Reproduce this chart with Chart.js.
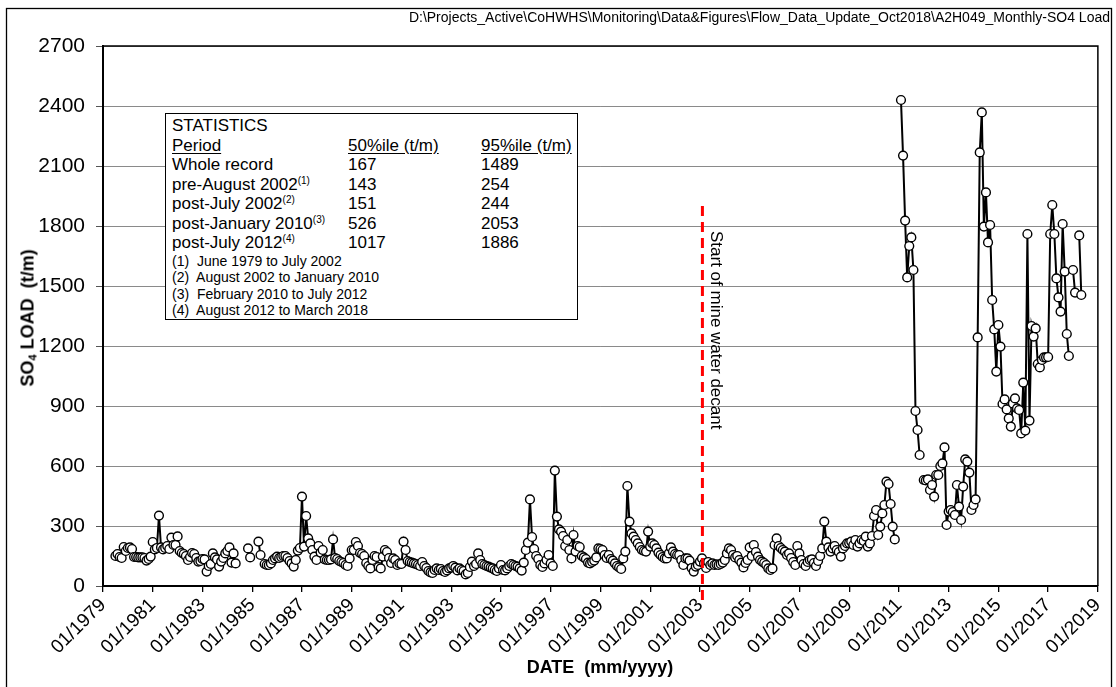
<!DOCTYPE html>
<html>
<head>
<meta charset="utf-8">
<title>A2H049 Monthly SO4 Load</title>
<script src="https://cdn.jsdelivr.net/npm/chart.js@4.4.1/dist/chart.umd.min.js"></script>
<style>
  html, body { margin: 0; padding: 0; background: #fff; }
  #wrap { position: relative; width: 1116px; height: 687px; overflow: hidden;
          font-family: "Liberation Sans", Arial, sans-serif; color: #000; }
  #chart { position: absolute; left: 0; top: 0; }
  .path { position: absolute; right: 6px; top: 9px; font-size: 14px; letter-spacing: 0; white-space: nowrap; }
  .ytitle { position: absolute; left: 28px; top: 318px; transform: translate(-50%, -50%) rotate(-90deg);
            font-weight: bold; font-size: 18px; white-space: pre; }
  .ytitle sub { font-size: 11px; vertical-align: -3px; }
  .xtitle { position: absolute; left: 600px; top: 667px; transform: translate(-50%, -50%);
            font-weight: bold; font-size: 18px; white-space: pre; }
  #stats { position: absolute; left: 165px; top: 113px; width: 413px; height: 207px; box-sizing: border-box;
           border: 1px solid #000; background: #fff; padding: 2px 0 0 6px; }
  #stats .row { position: relative; height: 19.5px; line-height: 19.5px; font-size: 17px; white-space: nowrap; }
  #stats .row span { position: absolute; top: 0; }
  #stats .c1 { left: 0; } #stats .c2 { left: 176px; } #stats .c3 { left: 309px; }
  #stats .u { text-decoration: underline; text-underline-offset: 2px; }
  #stats sup { font-size: 10px; vertical-align: 6px; line-height: 0; }
  #stats .note { height: 16.5px; line-height: 16.5px; font-size: 14px; white-space: pre; }
</style>
</head>
<body>
<div id="wrap">
  <canvas id="chart" width="1116" height="687"></canvas>
  <div class="path">D:\Projects_Active\CoHWHS\Monitoring\Data&amp;Figures\Flow_Data_Update_Oct2018\A2H049_Monthly-SO4 Load</div>
  <div class="ytitle">SO<sub>4</sub> LOAD  (t/m)</div>
  <div class="xtitle">DATE  (mm/yyyy)</div>
  <div id="stats"></div>
</div>
<script>
// monthly SO4 load (t/m), first value = June 1979, null = no record
var startYear = 1979, startMonth = 6;

var load1979to1989 = [
  150, 160, 145, 140, 195, 175, 190,                                  // 1979 Jun-Dec
  193, 185, 145, 145, 143, 143, 143, 140, 127, 135, 147, 220,         // 1980
  183, 190, 352, 193, 183, 190, 200, 185, 242, 205, 205, 248,         // 1981
  175, 165, 160, 150, 130, 145, 165, 160, 140, 122, 125, 135,         // 1982
  133, 72, 100, 110, 163, 143, 133, 97, 122, 140, 163, 175,           // 1983
  193, 117, 163, 113, null, null, null, null, null, 188, 143, null,   // 1984
  null, null, 222, 155, null, 110, 105, 105, 113, 130, 138, 147,      // 1985
  140, 145, 150, 150, 140, 125, 113, 97, 130, 177, 190, 447,          // 1986
  197, 350, 238, 213, 180, 147, 130, 200, 167, 180, 133, 130,         // 1987
  130, 133, 233, 140, 135, 125, 120, 115, 105, 100, 138, 180,         // 1988
  180, 220, 200, 165, 160, 150, 115, 100, 88, 130, 150, 145           // 1989
];
var load1990to1999 = [
  95, 88, 147, 180, 170, 140, 115, 138, 130, 105, 113, 110,           // 1990
  222, 180, 125, 120, 117, 113, 110, 105, 100, 120, 100, 90,          // 1991
  75, 68, 65, 80, 88, 80, 85, 75, 70, 78, 88, 92,                     // 1992
  100, 92, 78, 88, 80, 75, 58, 65, 95, 122, 100, 110,                 // 1993
  163, 130, 110, 105, 100, 97, 92, 88, 80, 75, 88, 105,               // 1994
  80, 78, 88, 100, 110, 105, 100, 97, 88, 77, 117, 180,               // 1995
  217, 433, 245, 185, 150, 135, 105, 95, 113, 130, 155, 113,          // 1996
  100, 577, 347, 283, 272, 250, 200, 230, 180, 138, 255, 172,         // 1997
  200, 195, 150, 143, 135, 117, 113, 120, 127, 143, 188, 185,         // 1998
  180, 155, 140, 155, 135, 127, 113, 100, 93, 85, 138, 172            // 1999
];
var load2000to2009 = [
  500, 322, 263, 247, 230, 213, 195, 180, 175, 172, 272, 197,         // 2000
  213, 205, 188, 167, 155, 145, 138, 138, 163, 193, 172, 160,         // 2001
  155, 155, 130, 105, 138, 138, 127, 90, 72, 97, 105, 122,            // 2002
  138, 113, 90, 120, 105, 113, 105, 108, 105, 110, 117, 130,          // 2003
  163, 188, 180, 155, 143, 150, 130, 117, 93, 115, 130, 193,          // 2004
  150, 205, 170, 147, 130, 122, 115, 105, 88, 80, 88, 205,            // 2005
  238, 200, 190, 180, 172, 155, 163, 140, 120, 105, 200, 163,         // 2006
  130, 110, 100, 120, 130, 133, 115, 100, 125, 150, 188, 322,         // 2007
  222, 193, 172, 188, 200, 180, 170, 147, 188, 200, 213, 215,         // 2008
  222, 205, 230, 197, 213, 230, 225, 247, 197, 213, 250, 350          // 2009
];
var load2010to2018 = [
  380, 255, 297, 363, 405, 522, 510, 410, 297, 233, null, null,                // 2010
  2430, 2152, 1827, 1543, 1700, 1743, 1580, 875, 780, 655, null, 530,          // 2011
  528, 533, 480, 505, 447, 555, 555, 600, 613, 693, 305, 372,                  // 2012
  380, 370, 355, 505, 397, 330, 497, 633, 622, 567, 380, 405,                  // 2013
  433, 1243, 2168, 2368, 1797, 1968, 1718, 1805, 1430, 1283, 1072, 1305,       // 2014
  1197, 910, 933, 883, 838, 797, 913, 938, 888, 880, 763, 1017,                // 2015
  777, 1760, 827, 1300, 1247, 1288, 1110, 1093, 1130, 1143, 1143, 1145,        // 2016
  1760, 1905, 1760, 1538, 1443, 1372, 1810, 1572, 1260, 1150, null, 1580,      // 2017
  1467, null, 1753, 1455                                                       // 2018
];

var xTickYears = [1979, 1981, 1983, 1985, 1987, 1989, 1991, 1993, 1995, 1997, 1999,
                  2001, 2003, 2005, 2007, 2009, 2011, 2013, 2015, 2017, 2019];
var yTicks = [0, 300, 600, 900, 1200, 1500, 1800, 2100, 2400, 2700];

var decantDate = 2003.1;    // start of mine water decant
var decantTop = 1900;
var decantLabel = 'Start of mine water decant';

var statPeriods = ['Whole record', 'pre-August 2002', 'post-July 2002', 'post-January 2010', 'post-July 2012'];
var statRefs = ['', '(1)', '(2)', '(3)', '(4)'];
var stat50 = [167, 143, 151, 526, 1017];
var stat95 = [1489, 254, 244, 2053, 1886];
var statNotes = ['(1)  June 1979 to July 2002', '(2)  August 2002 to January 2010',
                 '(3)  February 2010 to July 2012', '(4)  August 2012 to March 2018'];

// statistics box
(function(){
  var box = document.getElementById('stats');
  var html = '<div class="row"><span class="c1">STATISTICS</span></div>';
  html += '<div class="row"><span class="c1 u">Period</span><span class="c2 u">50%ile (t/m)</span><span class="c3 u">95%ile (t/m)</span></div>';
  for (var i = 0; i < statPeriods.length; i++) {
    html += '<div class="row"><span class="c1">' + statPeriods[i] + (statRefs[i] ? '<sup>' + statRefs[i] + '</sup>' : '') +
            '</span><span class="c2">' + stat50[i] + '</span><span class="c3">' + stat95[i] + '</span></div>';
  }
  statNotes.forEach(function(n){ html += '<div class="note">' + n + '</div>'; });
  box.innerHTML = html;
})();

var allLoads = load1979to1989.concat(load1990to1999, load2000to2009, load2010to2018);
var points = allLoads.map(function(v, i){
  // plotted at month end
  return { x: startYear + (startMonth + i) / 12, y: v };
});

var FONT = '"Liberation Sans", Arial, sans-serif';

var decor = {
  id: 'decor',
  afterDraw: function(chart){
    var ctx = chart.ctx, a = chart.chartArea;
    var xs = chart.scales.x, ys = chart.scales.y;
    ctx.save();
    // plot frame top/right
    ctx.strokeStyle = '#000';
    ctx.lineWidth = 1.5;
    ctx.beginPath();
    ctx.moveTo(a.left, a.top); ctx.lineTo(a.right, a.top); ctx.lineTo(a.right, a.bottom);
    ctx.stroke();
    // decant line
    var px = xs.getPixelForValue(decantDate);
    var py = ys.getPixelForValue(decantTop);
    ctx.strokeStyle = '#ff0000';
    ctx.lineWidth = 3;
    ctx.setLineDash([10, 6]);
    ctx.beginPath();
    ctx.moveTo(px, py);
    ctx.lineTo(px, a.bottom + 14);
    ctx.stroke();
    ctx.setLineDash([]);
    ctx.translate(px + 9, py + 25);
    ctx.rotate(Math.PI / 2);
    ctx.fillStyle = '#000';
    ctx.font = '17px ' + FONT;
    ctx.textAlign = 'left';
    ctx.textBaseline = 'alphabetic';
    ctx.fillText(decantLabel, 0, 0);
    ctx.restore();
    // outer frame
    ctx.save();
    ctx.strokeStyle = '#000';
    ctx.lineWidth = 1.3;
    ctx.strokeRect(6.5, 8.5, 1105, 700);
    ctx.restore();
  }
};

new Chart(document.getElementById('chart'), {
  type: 'line',
  data: {
    datasets: [{
      label: 'SO4 load',
      data: points,
      borderColor: '#000',
      borderWidth: 2,
      pointRadius: 4.4,
      pointBorderWidth: 1.4,
      pointBorderColor: '#000',
      pointBackgroundColor: '#fff',
      spanGaps: false,
      tension: 0
    }]
  },
  options: {
    responsive: false,
    animation: false,
    devicePixelRatio: 1,
    layout: { padding: { left: 0, top: 46, right: 15, bottom: 0 } },
    plugins: { legend: { display: false }, tooltip: { enabled: false } },
    scales: {
      x: {
        type: 'linear',
        min: 1979, max: 2019,
        afterBuildTicks: function(s){ s.ticks = xTickYears.map(function(v){ return { value: v }; }); },
        afterFit: function(s){ s.height = 101; },
        ticks: {
          autoSkip: false, minRotation: 45, maxRotation: 45, padding: 2,
          color: '#000', font: { family: FONT, size: 19 },
          callback: function(v){ return '01/' + v; }
        },
        grid: { drawOnChartArea: false, color: '#000', tickLength: 6, lineWidth: 1.3 },
        border: { color: '#000', width: 2 }
      },
      y: {
        min: 0, max: 2700,
        afterBuildTicks: function(s){ s.ticks = yTicks.map(function(v){ return { value: v }; }); },
        afterFit: function(s){ s.width = 103; },
        ticks: { color: '#000', padding: 11, font: { family: FONT, size: 21 },
                 callback: function(v){ return String(v); } },
        grid: { color: '#8a8a8a', lineWidth: 1, tickLength: 7, tickColor: '#555' },
        border: { color: '#000', width: 2 }
      }
    }
  },
  plugins: [decor]
});
</script>
</body>
</html>
